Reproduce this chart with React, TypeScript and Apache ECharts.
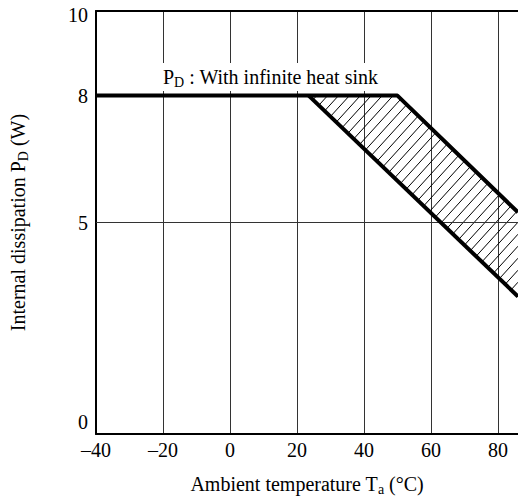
import React, { useEffect, useRef } from "react";
import * as echarts from "echarts";

// Axis ranges and ticks
const xMin = -40;
const xMax = 86;
const xInterval = 20;
const yMin = 0;
const yMax = 10;
const yTickLabels = [0, 5, 8, 10];
const yGridValues = [5];

// Derating curves (Ta in °C, PD in W)
const upperX = [-40, 50, 86];
const upperY = [8, 8, 5.24];
const lowerX = [23.5, 86];
const lowerY = [8, 3.25];

const FONT = "'Liberation Serif', 'Times New Roman', serif";

export default function App() {
  const ref = useRef<HTMLDivElement>(null);

  useEffect(() => {
    if (!ref.current) return;
    const chart = echarts.init(ref.current, undefined, { renderer: "svg" });

    const upperData = upperX.map((x, i) => [x, upperY[i]]);
    const lowerData = lowerX.map((x, i) => [x, lowerY[i]]);
    const hatchPoly = [
      [lowerX[0], lowerY[0]],
      [upperX[1], upperY[1]],
      [upperX[2], upperY[2]],
      [lowerX[1], lowerY[1]],
    ];

    const subRich = {
      t: { fontFamily: FONT, fontSize: 20, color: "#000" },
      sub: { fontFamily: FONT, fontSize: 14, color: "#000", padding: [10, 0, 0, 0] },
    };

    chart.setOption({
      animation: false,
      backgroundColor: "#fff",
      grid: { left: 95, top: 11, width: 425, height: 426, containLabel: false },
      xAxis: [
        {
          type: "value",
          min: xMin,
          max: xMax,
          interval: xInterval,
          position: "bottom",
          name: "{t|Ambient temperature T}{sub|a}{t| (°C)}",
          nameLocation: "middle",
          nameGap: 38,
          nameTextStyle: { rich: subRich },
          axisLine: { show: true, onZero: false, lineStyle: { color: "#000", width: 2 } },
          axisTick: { show: false },
          axisLabel: {
            margin: 6,
            fontFamily: FONT,
            fontSize: 20,
            color: "#000",
            showMaxLabel: false,
            formatter: (v: number) => (v < 0 ? "\u2013" + Math.abs(v) : String(v)),
          },
          splitLine: { show: true, lineStyle: { color: "#333", width: 1 } },
        },
        {
          type: "value",
          min: xMin,
          max: xMax,
          position: "top",
          axisLine: { show: true, onZero: false, lineStyle: { color: "#000", width: 2 } },
          axisTick: { show: false },
          axisLabel: { show: false },
          splitLine: { show: false },
        },
      ],
      yAxis: {
        type: "value",
        min: yMin,
        max: yMax,
        interval: 1,
        name: "{t|Internal dissipation P}{sub|D}{t| (W)}",
        nameLocation: "middle",
        nameGap: 66,
        nameRotate: 90,
        nameTextStyle: { rich: subRich },
        axisLine: { show: true, onZero: false, lineStyle: { color: "#000", width: 2 } },
        axisTick: { show: false },
        axisLabel: {
          margin: 8,
          fontFamily: FONT,
          fontSize: 20,
          color: "#000",
          formatter: (v: number) =>
            yTickLabels.includes(v) ? (v === 0 ? "{z|0}" : v === 10 ? "{d|10}" : String(v)) : "",
          rich: {
            z: { fontFamily: FONT, fontSize: 20, color: "#000", padding: [0, 0, 24, 0] },
            d: { fontFamily: FONT, fontSize: 20, color: "#000", padding: [8, 0, 0, 0] },
          },
        },
        splitLine: { show: false },
      },
      graphic: [
        {
          type: "text",
          left: 156,
          top: 63,
          z: 50,
          style: {
            text: "{t|P}{sub|D}{t| : With infinite heat sink}",
            rich: subRich,
            backgroundColor: "#fff",
            padding: [2, 7, 2, 7],
          },
        },
      ],
      series: [
        {
          type: "custom",
          name: "hatch",
          coordinateSystem: "cartesian2d",
          xAxisIndex: 0,
          yAxisIndex: 0,
          silent: true,
          z: 3,
          data: [hatchPoly[0]],
          renderItem: (_params: any, api: any) => {
            const pts = hatchPoly.map((p) => api.coord(p));
            const k = 1.1; // hatch slope (screen), lines k*x + y = c
            const sums = pts.map((p: number[]) => k * p[0] + p[1]);
            const cmin = Math.min(...sums);
            const cmax = Math.max(...sums);
            const step = 12;
            const children: any[] = [];
            for (let c = Math.ceil(cmin / step) * step; c <= cmax; c += step) {
              const hits: number[][] = [];
              for (let i = 0; i < pts.length; i++) {
                const P = pts[i];
                const Q = pts[(i + 1) % pts.length];
                const fp = k * P[0] + P[1] - c;
                const fq = k * Q[0] + Q[1] - c;
                if ((fp <= 0 && fq > 0) || (fp > 0 && fq <= 0)) {
                  const t = fp / (fp - fq);
                  hits.push([P[0] + t * (Q[0] - P[0]), P[1] + t * (Q[1] - P[1])]);
                }
              }
              if (hits.length >= 2) {
                children.push({
                  type: "line",
                  shape: { x1: hits[0][0], y1: hits[0][1], x2: hits[1][0], y2: hits[1][1] },
                  style: { stroke: "#000", lineWidth: 1 },
                });
              }
            }
            return { type: "group", children };
          },
        },
        {
          type: "line",
          name: "grid5",
          data: [],
          silent: true,
          markLine: {
            silent: true,
            symbol: "none",
            label: { show: false },
            lineStyle: { color: "#333", width: 1, type: "solid" },
            data: yGridValues.map((v) => ({ yAxis: v })),
          },
        },
        {
          type: "line",
          name: "upper",
          data: upperData,
          symbol: "none",
          z: 10,
          lineStyle: { color: "#000", width: 4 },
        },
        {
          type: "line",
          name: "lower",
          data: lowerData,
          symbol: "none",
          z: 10,
          lineStyle: { color: "#000", width: 4 },
        },
      ],
    });

    return () => chart.dispose();
  }, []);

  return (
    <div
      ref={ref}
      style={{ position: "fixed", left: 0, top: 0, width: 518, height: 501, background: "#fff" }}
    />
  );
}
